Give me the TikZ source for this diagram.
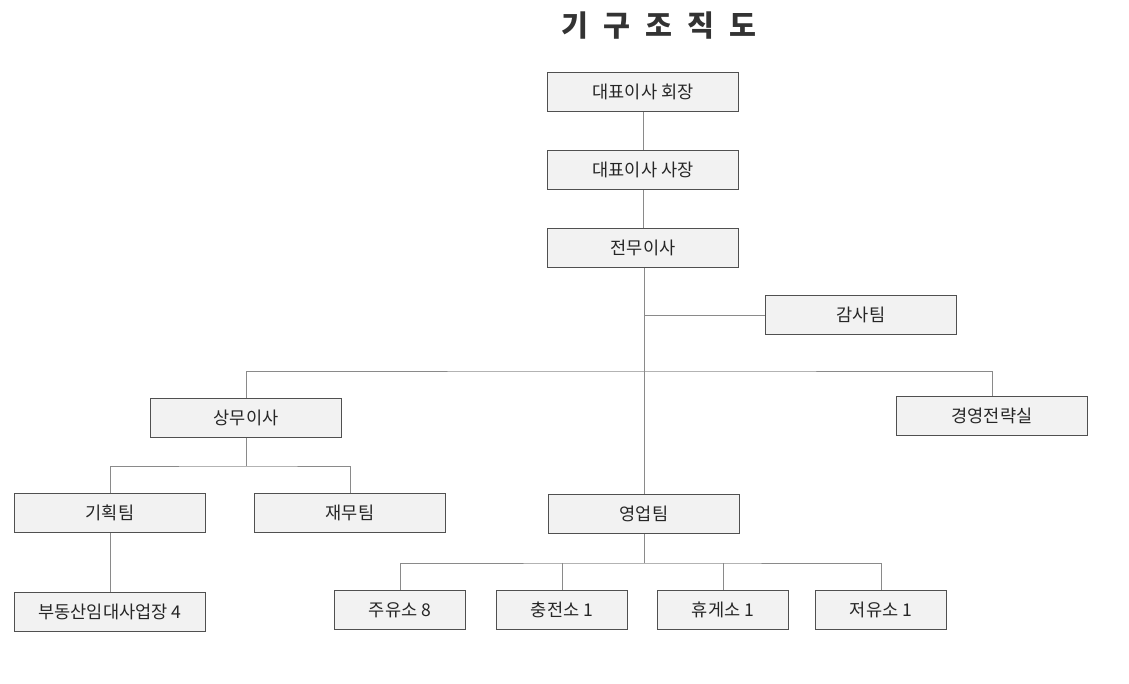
\documentclass[tikz,border=0pt]{standalone}
\usepackage{fontspec}
\setmainfont{Noto Sans CJK KR}
\usepackage{tikz}
\usetikzlibrary{positioning,calc}
\definecolor{boxfill}{HTML}{F2F2F2}
\definecolor{boxline}{HTML}{505050}
\definecolor{linkgray}{HTML}{8A8A8A}
\newcommand{\tsp}{\hspace{13pt}}
\tikzset{
  orgbox/.style={draw=boxline, line width=1.1pt, fill=boxfill, font=\fontsize{15}{17}\selectfont,
                 text=black!85, minimum height=1.17cm, inner sep=0pt, anchor=center},
  wide/.style={orgbox, minimum width=5.73cm},
  narrow/.style={orgbox, minimum width=3.93cm},
  orgline/.style={draw=linkgray, line width=0.8pt},
}

\begin{document}
\begin{tikzpicture}[x=0.03cm, y=-0.03cm]
    \useasboundingbox (0,0) rectangle (1129,684);
    \node[font=\fontsize{25}{28}\selectfont\bfseries, text=black!80] (title) at (659,26) {기\tsp 구\tsp 조\tsp 직\tsp 도};
    % top
    \node[wide] (hoejang) at (643,92)  {대표이사 회장};
    \node[wide] (sajang)  at (643,170) {대표이사 사장};
    \node[wide] (jeonmu)  at (643,248) {전무이사};
    \node[wide] (gamsa)   at (861,315) {감사팀};
    % second level
    \node[wide] (sangmu)   at (246,418) {상무이사};
    \node[wide] (jeollyak) at (992,416) {경영전략실};
    \node[wide] (gihoek)   at (110,513) {기획팀};
    \node[wide] (jaemu)    at (350,513) {재무팀};
    \node[wide] (yeongeop) at (644,514) {영업팀};
    % bottom
    \node[wide]   (budong)    at (110,612) {부동산임대사업장 4};
    \node[narrow] (juyuso)    at (400,610) {주유소 8};
    \node[narrow] (chungjeon) at (562,610) {충전소 1};
    \node[narrow] (hyuge)     at (723,610) {휴게소 1};
    \node[narrow] (jeoyuso)   at (881,610) {저유소 1};
    \coordinate (bus)   at (644,371);
    \coordinate (sbus)  at (246,466);
    \coordinate (ybus)  at (644,563);
    \draw[orgline] (hoejang) -- (sajang);
    \draw[orgline] (sajang) -- (jeonmu);
    \draw[orgline] (jeonmu.south -| yeongeop.north) -- (yeongeop.north);
    \draw[orgline] (yeongeop.north |- gamsa.west) -- (gamsa.west);
    \draw[orgline] (sangmu.north) |- (bus) -| (jeollyak.north);
    \draw[orgline] (sangmu.south) -- (sbus);
    \draw[orgline] (gihoek.north) |- (sbus) -| (jaemu.north);
    \draw[orgline] (gihoek) -- (budong);
    \draw[orgline] (yeongeop.south) -- (ybus);
    \draw[orgline] (juyuso.north) |- (ybus) -| (jeoyuso.north);
    \draw[orgline] (chungjeon.north) -- (chungjeon.north |- ybus);
    \draw[orgline] (hyuge.north) -- (hyuge.north |- ybus);
  \end{tikzpicture}
\end{document}
